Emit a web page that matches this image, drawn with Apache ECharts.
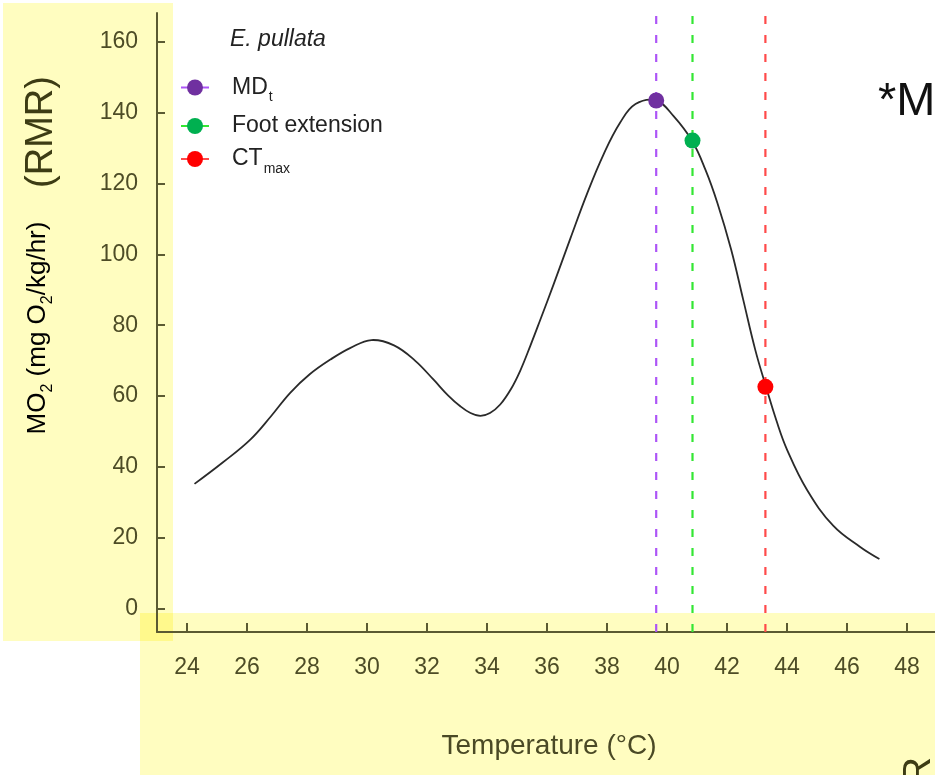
<!DOCTYPE html>
<html>
<head>
<meta charset="utf-8">
<style>html,body{margin:0;padding:0;background:#fff;}#main{width:935px;height:775px;}</style>
<script src="https://cdn.jsdelivr.net/npm/echarts@6/dist/echarts.min.js"></script>
</head>
<body>
<div id="main"></div>
<script>
// ---- data ----
const temps = [24.25, 25.2, 26.11, 26.8, 27.44, 28.1, 28.78, 29.45, 30.15, 30.9, 31.6, 32.22, 32.7, 33.11, 33.45, 33.78, 34.1, 34.44, 34.8, 35.11, 35.45, 35.78, 36.22, 36.78, 37.33, 37.89, 38.44, 38.95, 39.64, 40.22, 40.83, 41.28, 41.68, 42.14, 42.54, 42.94, 43.3, 43.65, 44.0, 44.67, 45.54, 46.44, 47.08];
const mo2   = [35.2, 41.3, 47.7, 54.3, 60.9, 66.2, 70.3, 73.6, 75.8, 74.3, 70.0, 64.6, 60.2, 57.1, 55.2, 54.4, 55.2, 57.6, 62.0, 67.2, 74.3, 81.6, 91.5, 104.5, 117.0, 128.3, 137.2, 142.4, 143.4, 139.0, 132.1, 123.9, 114.5, 101.3, 87.2, 73.1, 62.6, 53.0, 44.9, 33.5, 23.4, 17.4, 14.0];
const markerNames = ['MDt', 'Foot extension', 'CTmax'];
const markerTemps = [39.64, 40.85, 43.28];
const markerMO2   = [143.4, 132.1, 62.6];
const xTicks = [24, 26, 28, 30, 32, 34, 36, 38, 40, 42, 44, 46, 48, 50];
const yTicks = [0, 20, 40, 60, 80, 100, 120, 140, 160];
const xRange = [23, 50];
const yRange = [-6.6, 168.1];

// ---- styles ----
const FONT = 'Liberation Sans';
const lineColors = ['#ad55f7', '#33e633', '#ff4a4a'];
const dotColors = ['#7030a0', '#00b050', '#ff0000'];
const axisCol = '#5b5a32';
const labelCol = '#4d4c26';

const chart = echarts.init(document.getElementById('main'), null, {renderer: 'canvas'});

const curveData = temps.map((t, i) => [t, mo2[i]]);
const markerSeries = markerNames.map((name, i) => ({
  name: name,
  type: 'line',
  symbol: 'circle',
  symbolSize: 16,
  z: 3,
  itemStyle: {color: dotColors[i]},
  lineStyle: {color: lineColors[i], width: 2.2, type: [8, 11]},
  emphasis: {disabled: true},
  data: [
    {value: [markerTemps[i], yRange[0]], symbol: 'none'},
    {value: [markerTemps[i], markerMO2[i]]},
    {value: [markerTemps[i], yRange[1]], symbol: 'none'}
  ]
}));

const legendRich = {
  n: {fontFamily: FONT, fontSize: 23, color: '#222', lineHeight: 22, padding: [0, 0, 0, 18]},
  s: {fontFamily: FONT, fontSize: 14, color: '#222', lineHeight: 14, verticalAlign: 'bottom', padding: [0, 0, -6, 1]}
};
const legendFmt = {
  'MDt': '{n|MD}{s|t}',
  'Foot extension': '{n|Foot extension}',
  'CTmax': '{n|CT}{s|max}'
};

const option = {
  backgroundColor: '#ffffff',
  animation: false,
  textStyle: {fontFamily: FONT},
  grid: {left: 157, top: 13, width: 810, height: 619, containLabel: false, outerBoundsMode: 'none'},
  title: {
    text: 'E. pullata',
    left: 230, top: 28, padding: 0,
    textStyle: {fontFamily: FONT, fontStyle: 'italic', fontWeight: 'normal', fontSize: 23, color: '#222'}
  },
  legend: {
    data: markerNames,
    orient: 'vertical',
    left: 180, top: 76, padding: 0,
    itemWidth: 28, itemHeight: 20, itemGap: 10,
    lineStyle: {type: 'solid', width: 2},
    formatter: name => legendFmt[name],
    textStyle: {rich: legendRich}
  },
  xAxis: {
    type: 'value', min: xRange[0], max: xRange[1],
    name: 'Temperature (°C)', nameLocation: 'middle', nameGap: 100,
    nameTextStyle: {fontFamily: FONT, fontSize: 28, color: '#4a4925', padding: [0, 26, 0, 0]},
    axisLine: {show: true, onZero: false, lineStyle: {color: axisCol, width: 2}},
    axisTick: {show: true, inside: true, length: 9, customValues: xTicks, lineStyle: {color: axisCol, width: 2}},
    axisLabel: {customValues: xTicks, margin: 24, fontFamily: FONT, fontSize: 23, color: labelCol},
    splitLine: {show: false}
  },
  yAxis: {
    type: 'value', min: yRange[0], max: yRange[1],
    axisLine: {show: true, onZero: false, lineStyle: {color: axisCol, width: 2}},
    axisTick: {show: true, inside: true, length: 8, customValues: yTicks, lineStyle: {color: axisCol, width: 2}},
    axisLabel: {customValues: yTicks, margin: 19, fontFamily: FONT, fontSize: 23, color: labelCol},
    splitLine: {show: false}
  },
  graphic: [
    {type: 'rect', z: -100, silent: true, shape: {x: 3, y: 3, width: 170, height: 638}, style: {fill: '#fffdc0'}},
    {type: 'rect', z: -100, silent: true, shape: {x: 140, y: 613, width: 800, height: 170}, style: {fill: '#fffdc0'}},
    {type: 'rect', z: -99, silent: true, shape: {x: 140, y: 613, width: 33, height: 28}, style: {fill: '#fff98c'}},
    {type: 'text', z: 100, silent: true, x: 42, y: 132, rotation: Math.PI / 2,
      style: {text: '(RMR)', font: '38px "Liberation Sans"', fill: '#3d3c14', align: 'center', verticalAlign: 'middle'}},
    {type: 'text', z: 100, silent: true, x: 38, y: 328, rotation: Math.PI / 2,
      style: {text: '{a|MO}{s|2}{a| (mg O}{s|2}{a|/kg/hr)}', align: 'center', verticalAlign: 'middle',
        rich: {
          a: {fontFamily: FONT, fontSize: 26, color: '#4a4925', lineHeight: 28},
          s: {fontFamily: FONT, fontSize: 16, color: '#4a4925', lineHeight: 16, verticalAlign: 'bottom', padding: [0, 0, -4, 0]}
        }}},
    {type: 'text', z: 100, silent: true, x: 878, y: 79,
      style: {text: '*M', font: '47px "Liberation Sans"', fill: '#111', align: 'left', verticalAlign: 'alphabetic'}},
    {type: 'text', z: 100, silent: true, x: 920, y: 757, rotation: Math.PI / 2,
      style: {text: 'R', font: '38px "Liberation Sans"', fill: '#3d3c14', align: 'right', verticalAlign: 'middle'}}
  ],
  series: [
    {
      name: 'curve', type: 'custom', coordinateSystem: 'cartesian2d',
      data: curveData, encode: {x: 0, y: 1}, z: 2, silent: true,
      renderItem: function (params, api) {
        if (params.dataIndex !== 0) return null;
        const pts = curveData.map(d => api.coord(d));
        return {
          type: 'polyline',
          shape: {points: pts, smooth: 0.4},
          style: {stroke: '#2a2a2a', lineWidth: 1.8, fill: null}
        };
      }
    }
  ].concat(markerSeries)
};
chart.setOption(option);
</script>
</body>
</html>
